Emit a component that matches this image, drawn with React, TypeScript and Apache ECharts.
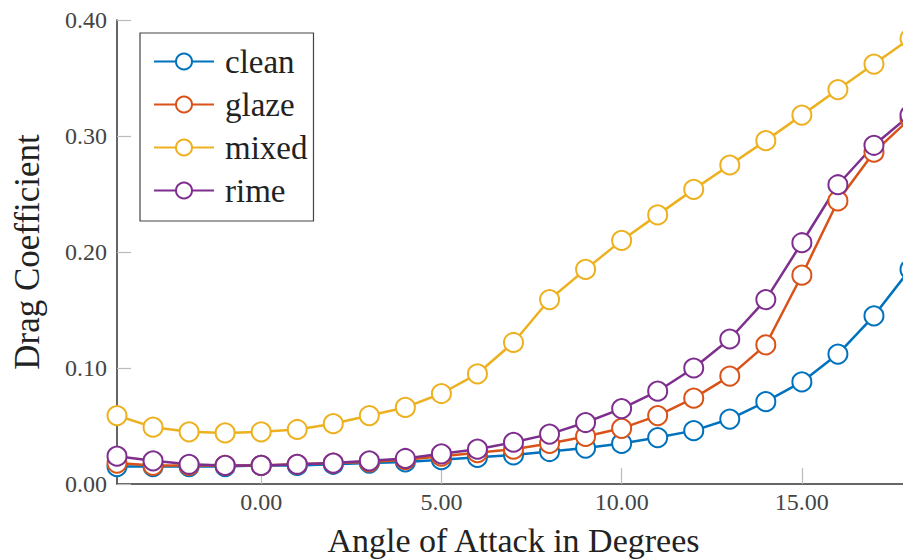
import React, { useEffect, useRef } from "react";
import * as echarts from "echarts";

const angles = [-4, -3, -2, -1, 0, 1, 2, 3, 4, 5, 6, 7, 8, 9, 10, 11, 12, 13, 14, 15, 16, 17, 18];
const clean = [0.015, 0.015, 0.015, 0.015, 0.016, 0.016, 0.017, 0.018, 0.019, 0.021, 0.023, 0.025, 0.028, 0.031, 0.035, 0.040, 0.046, 0.056, 0.071, 0.088, 0.112, 0.145, 0.185];
const glaze = [0.018, 0.016, 0.016, 0.016, 0.016, 0.017, 0.018, 0.019, 0.021, 0.024, 0.027, 0.030, 0.035, 0.041, 0.048, 0.059, 0.074, 0.093, 0.120, 0.180, 0.244, 0.286, 0.315];
const mixed = [0.059, 0.049, 0.045, 0.044, 0.045, 0.047, 0.052, 0.059, 0.066, 0.078, 0.095, 0.122, 0.159, 0.185, 0.210, 0.232, 0.254, 0.275, 0.296, 0.318, 0.340, 0.362, 0.384];
const rime = [0.024, 0.020, 0.017, 0.016, 0.016, 0.017, 0.018, 0.020, 0.022, 0.026, 0.030, 0.036, 0.043, 0.053, 0.065, 0.080, 0.100, 0.125, 0.159, 0.208, 0.258, 0.292, 0.318];
const xTicks = [0, 5, 10, 15];

const seriesDefs = [
  { name: "clean", data: clean, color: "#0072BD" },
  { name: "glaze", data: glaze, color: "#D95319" },
  { name: "mixed", data: mixed, color: "#EDB120" },
  { name: "rime", data: rime, color: "#7E2F8E" },
];

const FONT = "'Liberation Serif', 'DejaVu Serif', serif";

export default function App() {
  const ref = useRef<HTMLDivElement>(null);
  useEffect(() => {
    if (!ref.current) return;
    const chart = echarts.init(ref.current, undefined, { renderer: "svg" });
    chart.setOption({
      animation: false,
      backgroundColor: "#ffffff",
      grid: { left: 117, top: 20, bottom: 75, right: -7, containLabel: false, outerBoundsMode: "none" },
      legend: {
        orient: "vertical",
        left: 140,
        top: 33,
        padding: [12, 6, 14, 13],
        itemGap: 10,
        itemWidth: 60,
        itemHeight: 20,
        borderColor: "#444",
        borderWidth: 1.2,
        backgroundColor: "#ffffff",
        textStyle: { fontFamily: FONT, fontSize: 33, lineHeight: 33, color: "#222", padding: [0, 0, 0, 6] },
        data: seriesDefs.map((s) => s.name),
      },
      xAxis: {
        type: "value",
        min: -4,
        max: 18,
        name: "Angle of Attack in Degrees",
        nameLocation: "middle",
        nameGap: 39,
        nameTextStyle: { fontFamily: FONT, fontSize: 34, color: "#222" },
        axisLine: { onZero: false, lineStyle: { color: "#333", width: 1.5 } },
        axisTick: { inside: true, length: 16, customValues: xTicks, lineStyle: { color: "#bbb", width: 1.2 } },
        axisLabel: {
          customValues: xTicks,
          formatter: (v: number) => v.toFixed(2),
          fontFamily: FONT,
          fontSize: 24,
          color: "#444",
          margin: 6,
        },
        splitLine: { show: false },
      },
      yAxis: {
        type: "value",
        min: 0,
        max: 0.4,
        interval: 0.1,
        name: "Drag Coefficient",
        nameLocation: "middle",
        nameGap: 72,
        nameTextStyle: { fontFamily: FONT, fontSize: 35, color: "#222" },
        axisLine: { show: true, onZero: false, lineStyle: { color: "#333", width: 1.5 } },
        axisTick: { show: true, inside: true, length: 14, lineStyle: { color: "#bbb", width: 1.2 } },
        axisLabel: {
          formatter: (v: number) => v.toFixed(2),
          fontFamily: FONT,
          fontSize: 24,
          color: "#444",
          margin: 10,
        },
        splitLine: { show: false },
      },
      series: seriesDefs.map((s) => ({
        name: s.name,
        type: "line",
        data: angles.map((a, i) => [a, s.data[i]]),
        color: s.color,
        symbol: "emptyCircle",
        symbolSize: 19,
        clip: false,
        lineStyle: { width: 2.5, color: s.color },
        itemStyle: { color: s.color, borderWidth: 2.5, borderColor: s.color },
      })),
    });
    return () => chart.dispose();
  }, []);
  return <div ref={ref} style={{ position: "fixed", left: 0, top: 0, width: 903, height: 559 }} />;
}
